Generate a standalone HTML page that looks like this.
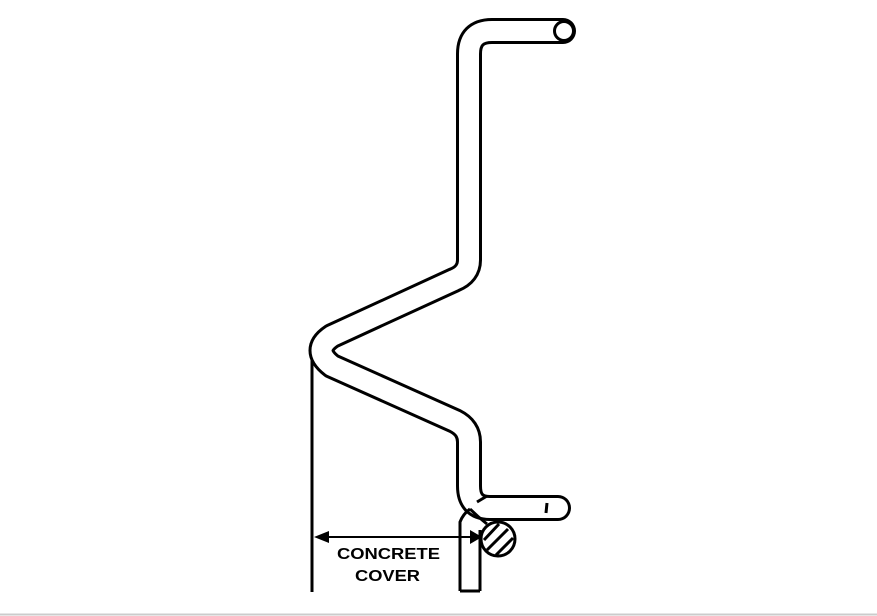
<!DOCTYPE html>
<html><head><style>body{margin:0;background:#fff}svg{display:block}</style></head><body>
<svg width="877" height="616" viewBox="0 0 877 616" xmlns="http://www.w3.org/2000/svg">
<rect width="877" height="616" fill="#fff"/>
<line x1="0" y1="614.5" x2="877" y2="614.5" stroke="#ccc" stroke-width="2"/>
<g fill="none" stroke-linejoin="round">
<path d="M563,31 L492,31 Q469,31 469,54 L469,260 Q469,274 454,280 L332,336 Q311,350 332,366 L455,421 Q469,428 469,442 L469,486 Q469,508 490,508 L558,508" stroke="#000" stroke-width="26" stroke-linecap="round"/>
<path d="M563,31 L492,31 Q469,31 469,54 L469,260 Q469,274 454,280 L332,336 Q311,350 332,366 L455,421 Q469,428 469,442 L469,486 Q469,508 490,508 L558,508" stroke="#fff" stroke-width="20" stroke-linecap="round"/>
</g>
<circle cx="564" cy="31" r="9.5" fill="#fff" stroke="#000" stroke-width="3"/>
<line x1="547" y1="503" x2="546" y2="513" stroke="#000" stroke-width="3"/>
<line x1="477" y1="502" x2="487" y2="496" stroke="#000" stroke-width="3"/>
<line x1="312" y1="360" x2="312" y2="592" stroke="#000" stroke-width="3"/>
<path d="M460,591 L460,522 Q463,514 470,509 M480,591 L480,530 M460,591 L480,591" fill="none" stroke="#000" stroke-width="3"/>
<path d="M470,509 Q478,517 487,524" fill="none" stroke="#000" stroke-width="3"/>
<circle cx="498" cy="539" r="17" fill="#fff" stroke="#000" stroke-width="3"/>
<g stroke="#000" stroke-width="3">
<line x1="484" y1="540" x2="499" y2="524"/>
<line x1="487" y1="550" x2="508" y2="529"/>
<line x1="496" y1="555" x2="513" y2="538"/>
</g>
<line x1="318" y1="537" x2="478" y2="537" stroke="#000" stroke-width="2"/>
<polygon points="314,537 329,531 329,543" fill="#000"/>
<polygon points="482,537 470,530 470,544" fill="#000"/>
<text x="337" y="559" textLength="103" lengthAdjust="spacingAndGlyphs" font-family="Liberation Sans, sans-serif" font-weight="bold" font-size="16">CONCRETE</text>
<text x="355" y="581" textLength="65" lengthAdjust="spacingAndGlyphs" font-family="Liberation Sans, sans-serif" font-weight="bold" font-size="16">COVER</text>
</svg>
</body></html>
